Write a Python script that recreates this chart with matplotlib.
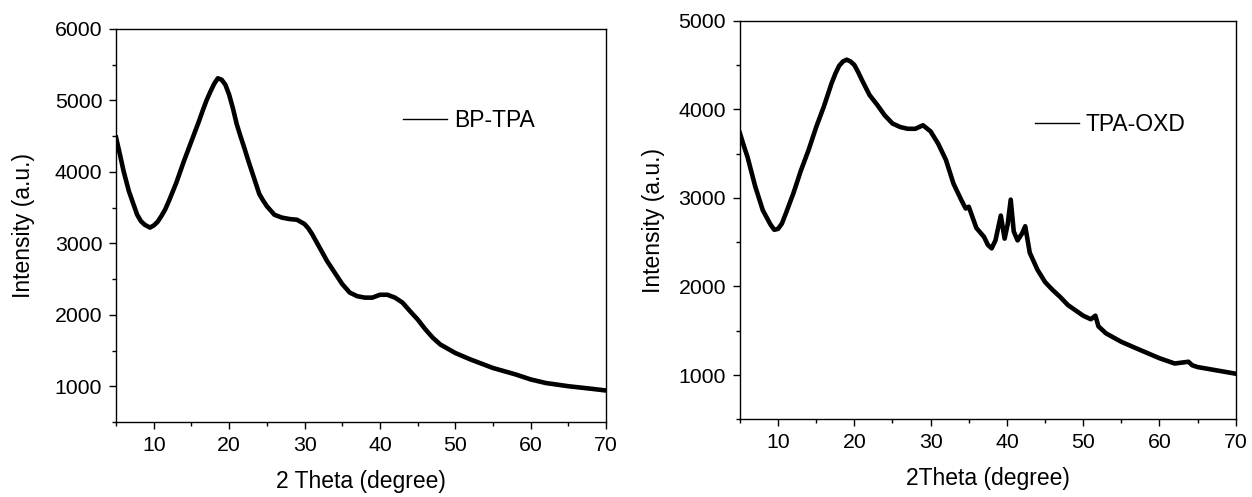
import matplotlib.pyplot as plt
from matplotlib.lines import Line2D
from matplotlib.ticker import MultipleLocator

plt.rcParams['font.family'] = ['Liberation Sans', 'DejaVu Sans']

# BP-TPA diffractogram
bp_theta = [5, 5.5, 6, 6.7, 7.3, 7.8, 8.3, 8.8, 9.5, 10, 10.5, 11, 11.5, 12, 12.5, 13, 13.5, 14,
            14.5, 15, 15.5, 16, 16.5, 17, 17.5, 18, 18.5, 19, 19.5, 20, 20.5, 21, 21.5, 22, 22.5,
            23, 23.5, 24, 24.5, 25, 26, 27, 28, 29, 30, 30.5, 31, 32, 33, 34, 35, 36, 37, 38,
            39, 40, 41, 42, 43, 44, 45, 46, 47, 48, 50, 52, 55, 58, 60, 62, 65, 68, 70]
bp_int = [4480, 4250, 4010, 3730, 3550, 3400, 3310, 3260, 3220, 3250, 3300, 3380, 3470, 3590,
          3720, 3850, 4000, 4150, 4290, 4430, 4570, 4710, 4860, 5000, 5120, 5230, 5310, 5290,
          5220, 5080, 4890, 4670, 4500, 4340, 4170, 4010, 3850, 3690, 3600, 3520, 3400, 3360,
          3340, 3330, 3270, 3210, 3130, 2940, 2750, 2590, 2430, 2310, 2260, 2240, 2240, 2280,
          2280, 2240, 2170, 2050, 1935, 1800, 1680, 1585, 1465, 1375, 1255, 1165, 1095, 1045,
          1000, 965, 940]

# TPA-OXD diffractogram
ox_theta = [5, 5.5, 6, 7, 8, 9, 9.5, 10, 10.5, 11, 12, 13, 14, 15, 16, 17, 17.5, 18, 18.5, 19,
            19.5, 20, 20.5, 21, 22, 23, 24, 25, 26, 27, 28, 29, 30, 31, 32, 33, 34, 34.6, 35,
            35.5, 36, 37, 37.5, 38, 38.5, 39.2, 39.7, 40.1, 40.5, 40.9, 41.4, 42, 42.4, 43, 44,
            45, 46, 47, 48, 49, 50, 51, 51.6, 52, 53, 55, 57, 60, 62, 63.8, 64.3, 65, 68, 70]
ox_int = [3730, 3590, 3460, 3130, 2860, 2700, 2640, 2650, 2710, 2820, 3050, 3310, 3540, 3800,
          4030, 4290, 4400, 4490, 4540, 4560, 4540, 4500, 4420, 4330, 4160, 4050, 3930, 3840,
          3800, 3780, 3780, 3820, 3750, 3610, 3430, 3160, 2980, 2880, 2900, 2780, 2660, 2560,
          2470, 2430, 2520, 2800, 2540, 2700, 2980, 2620, 2520, 2600, 2680, 2380, 2190, 2050,
          1960, 1880, 1790, 1730, 1670, 1630, 1670, 1550, 1470, 1375, 1300, 1190, 1130, 1150,
          1110, 1090, 1045, 1015]

panels = [
    (bp_theta, bp_int, 'BP-TPA', '2 Theta (degree)', 6000, (43.1, 4717), 14),
    (ox_theta, ox_int, 'TPA-OXD', '2Theta (degree)', 5000, (43.7, 3823), 9.5),
]
boxes = [[0.0927, 0.151, 0.3914, 0.7907], [0.591, 0.1563, 0.396, 0.802]]

fig = plt.figure(figsize=(12.52, 4.97), dpi=100)
fs = 15.3
lfs = 16.5

for (tt, ii, name, xlab, ytop, legpos, ypad), box in zip(panels, boxes):
    ax = fig.add_axes(box)
    ax.plot(tt, ii, color='black', lw=3.3, solid_joinstyle='round')
    ax.set_xlim(5, 70)
    ax.set_ylim(500, ytop)
    ax.xaxis.set_major_locator(MultipleLocator(10))
    ax.xaxis.set_minor_locator(MultipleLocator(5))
    ax.yaxis.set_major_locator(MultipleLocator(1000))
    ax.yaxis.set_minor_locator(MultipleLocator(500))
    ax.tick_params(which='major', direction='out', length=5, width=1, labelsize=fs, pad=5)
    ax.tick_params(which='minor', direction='out', length=3, width=1)
    for s in ax.spines.values():
        s.set_linewidth(1)
    ax.set_xlabel(xlab, fontsize=lfs, labelpad=11)
    ax.set_ylabel('Intensity (a.u.)', fontsize=lfs, labelpad=ypad)
    h = Line2D([], [], color='black', lw=1)
    ax.legend([h], [name], loc='center left', bbox_to_anchor=legpos,
              bbox_transform=ax.transData, frameon=False, fontsize=16.5,
              handlelength=1.9, handletextpad=0.3, borderpad=0, borderaxespad=0)

fig.savefig('out.png', dpi=100)
